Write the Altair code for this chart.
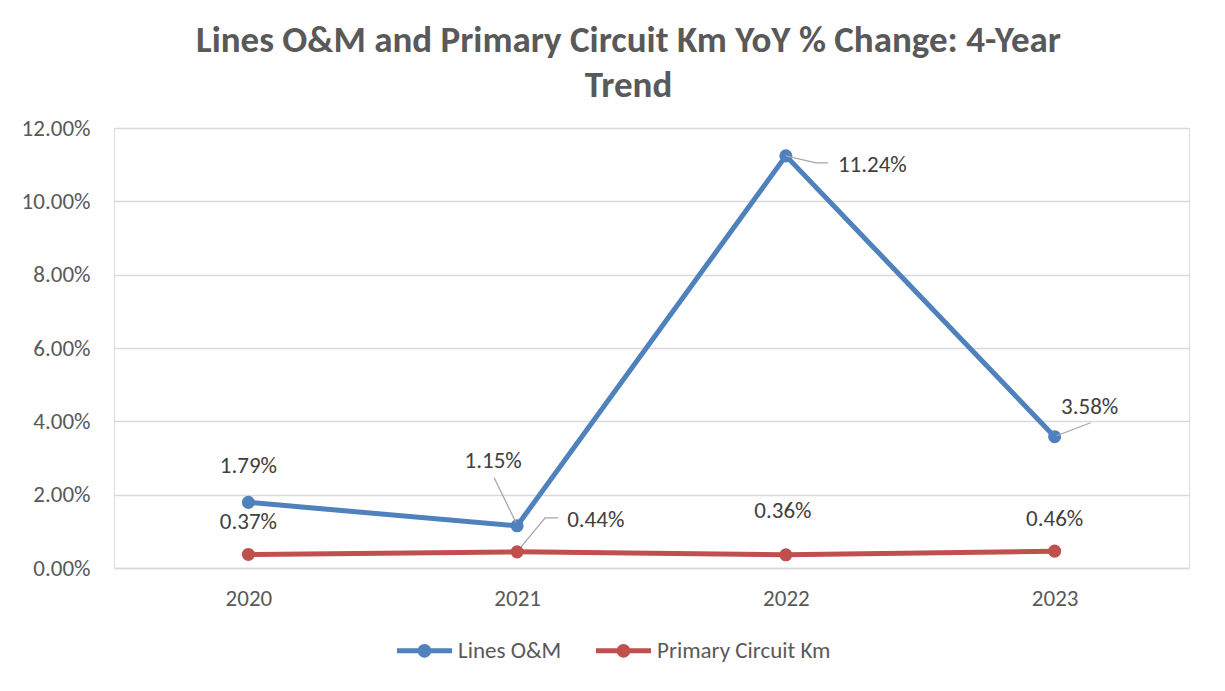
import altair as alt
import pandas as pd

# ---- data ----
years = [2020, 2021, 2022, 2023]
lines_om = [1.79, 1.15, 11.24, 3.58]
primary_km = [0.37, 0.44, 0.36, 0.46]
series = ["Lines O&M", "Primary Circuit Km"]
colors = ["#4F81BD", "#C0504D"]
y_ticks = [0, 2, 4, 6, 8, 10, 12]

# ---- label placement (pixel offsets from each point) ----
om_dx = [0, -24, 52, 35]
om_dy = [-36, -65, 9, -30]
om_align = ["center", "center", "left", "center"]
km_dx = [0, 50, -3, 0]
km_dy = [-32, -32, -44, -32]
km_align = ["center", "left", "center", "center"]

# leader lines: (series index, year index, list of pixel offsets from point)
leaders = [
    (0, 1, [(-1, -3), (-23, -48)]),
    (0, 2, [(0, 0), (30, 7), (42, 7)]),
    (0, 3, [(2, -1), (36, -14)]),
    (1, 1, [(4, -5), (28, -34), (41, -34)]),
]

W, H = 1075, 440
PXY = W / 4.0
PXP = H / 12.0
FONT = "Carlito, Lato"
FS = 23

vals = [lines_om, primary_km]
rows = []
for s, v in zip(series, vals):
    for yr, val in zip(years, v):
        rows.append({"year": yr, "value": val / 100.0, "series": s})
df = pd.DataFrame(rows)

lab_rows = []
for si, (dxs, dys, aligns) in enumerate([(om_dx, om_dy, om_align), (km_dx, km_dy, km_align)]):
    for i, yr in enumerate(years):
        v = vals[si][i]
        lab_rows.append({
            "year": yr + dxs[i] / PXY,
            "value": (v - dys[i] / PXP) / 100.0,
            "text": f"{v:.2f}%",
            "align": aligns[i],
        })
labels = pd.DataFrame(lab_rows)

lead_rows = []
for k, (si, yi, pts) in enumerate(leaders):
    v = vals[si][yi]
    for j, (dx, dy) in enumerate(pts):
        lead_rows.append({
            "year": years[yi] + dx / PXY,
            "value": (v - dy / PXP) / 100.0,
            "grp": k,
            "ord": j,
        })
lead = pd.DataFrame(lead_rows)

x_enc = alt.X(
    "year:Q",
    scale=alt.Scale(domain=[2019.5, 2023.5], nice=False, zero=False),
    axis=alt.Axis(values=years, format="d", grid=False, ticks=False,
                  domainColor="#D9D9D9", domainWidth=1.3,
                  labelFontSize=FS, labelColor="#595959", labelFont=FONT,
                  labelPadding=19, title=None),
)
y_enc = alt.Y(
    "value:Q",
    scale=alt.Scale(domain=[0, 0.12], nice=False),
    axis=alt.Axis(values=[t / 100.0 for t in y_ticks], format=".2%", grid=True,
                  gridColor="#D9D9D9", gridWidth=1.3, domain=False, ticks=False,
                  labelFontSize=FS, labelColor="#595959", labelFont=FONT,
                  labelPadding=24, title=None),
)

SYM = ("M-1,-0.09L1,-0.09L1,0.09L-1,0.09Z "
       "M-0.25,0A0.25,0.25 0 1 1 0.25,0A0.25,0.25 0 1 1 -0.25,0Z")

legend = alt.Legend(orient="none", legendX=283, legendY=495,
                    direction="horizontal", title=None,
                    symbolType=SYM, symbolSize=3025,
                    symbolStrokeWidth=0, symbolOpacity=1,
                    labelFontSize=FS, labelColor="#595959", labelLimit=500,
                    labelFont=FONT, columnPadding=34, labelOffset=6)

color_scale = alt.Scale(domain=series, range=colors)

line = alt.Chart(df).mark_line(strokeWidth=5).encode(
    x=x_enc, y=y_enc,
    color=alt.Color("series:N", scale=color_scale, legend=legend),
)
points = alt.Chart(df).mark_point(filled=True, size=170, opacity=1).encode(
    x=x_enc, y=y_enc,
    color=alt.Color("series:N", scale=color_scale, legend=legend),
)
leader = alt.Chart(lead).mark_line(color="#A6A6A6", strokeWidth=1.3).encode(
    x="year:Q", y="value:Q", detail="grp:N", order="ord:Q",
)
text_c = alt.Chart(labels).transform_filter(alt.datum.align == "center").mark_text(
    align="center", baseline="middle", fontSize=FS, font=FONT, color="#404040"
).encode(x="year:Q", y="value:Q", text="text:N")
text_l = alt.Chart(labels).transform_filter(alt.datum.align == "left").mark_text(
    align="left", baseline="middle", fontSize=FS, font=FONT, color="#404040"
).encode(x="year:Q", y="value:Q", text="text:N")

chart = alt.layer(line, points, leader, text_c, text_l).properties(
    width=W, height=H,
    title=alt.TitleParams(
        ["Lines O&M and Primary Circuit Km YoY % Change: 4-Year", "Trend"],
        fontSize=37, font=FONT, fontWeight="bold", color="#595959",
        lineHeight=45, offset=12, dx=-23, anchor="middle",
    ),
    autosize=alt.AutoSizeParams(type="none"),
    padding={"left": 106, "top": 120, "right": 20, "bottom": 110},
).configure_view(stroke=None).configure(background="white")

chart.save("out.html", embed_options={"renderer": "svg", "actions": False})
